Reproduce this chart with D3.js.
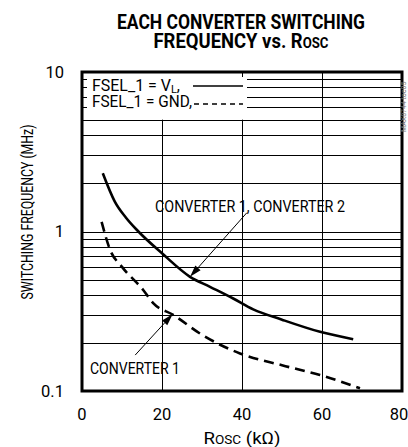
<!DOCTYPE html>
<html>
<head>
<meta charset="utf-8">
<script src="https://cdn.jsdelivr.net/npm/d3@7"></script>
<style>
    body { margin: 0; background: #fff; }
    svg { display: block; font-family: "Liberation Sans Narrow", Roboto, "DejaVu Sans Condensed", sans-serif; }
</style>
</head>
<body>
<div id="chart"></div>
<script>
// 0.data
var roscSolid = [5.2, 8.2, 11, 14.1, 20, 27, 32, 37.8, 42.8, 50, 59.5, 67.8];
var freqSolid = [2.32, 1.54, 1.22, 1.0, 0.73, 0.52, 0.45, 0.38, 0.325, 0.28, 0.235, 0.211];

var roscDashed = [4.9, 7, 10, 15.3, 17.8, 22.8, 30, 39.5, 50, 59.5, 69.5];
var freqDashed = [1.15, 0.77, 0.6, 0.43, 0.355, 0.30, 0.225, 0.172, 0.145, 0.126, 0.104];

var xTicks = [0, 20, 40, 60, 80];
var yTicks = [0.1, 1, 10];
var yTickLabels = ["0.1", "1", "10"];
var yGrid = [0.2, 0.3, 0.4, 0.5, 0.6, 0.7, 0.8, 0.9, 1, 2, 3, 4, 5, 6, 7, 8, 9];

// 0.1.size
var svgBGW = 408, svgBGH = 447;
var margin = {top: 72, right: 6, bottom: 56, left: 82};
var svgW = svgBGW - margin.left - margin.right;
var svgH = svgBGH - margin.top - margin.bottom;
var labelSize = 16.5;

// 1.scales
var xScale = d3.scaleLinear().domain([0, 80]).range([0, svgW]);
var yScale = d3.scaleLog().domain([0.1, 10]).range([svgH, 0]);

var svgBG = d3.select("#chart").append("svg").attr("width", svgBGW).attr("height", svgBGH);
var svg = svgBG.append("g").attr("transform", "translate(" + margin.left + "," + margin.top + ")");

// 2.title
var title = svgBG.append("g").attr("font-weight", "bold").attr("text-anchor", "middle").attr("fill", "#000");
title.append("text").attr("x", 241).attr("y", 29).attr("font-size", 21)
    .attr("textLength", 248).attr("lengthAdjust", "spacingAndGlyphs")
    .text("EACH CONVERTER SWITCHING");
var t2 = title.append("text").attr("x", 241).attr("y", 48).attr("font-size", 21)
    .attr("textLength", 175).attr("lengthAdjust", "spacingAndGlyphs");
t2.append("tspan").text("FREQUENCY vs. R");
t2.append("tspan").attr("font-size", 15).text("OSC");

// 3.grid
var grid = svg.append("g").attr("stroke", "#000").attr("stroke-width", 1);
grid.selectAll("line.h").data(yGrid).enter().append("line").attr("class", "h")
    .attr("x1", 0).attr("x2", svgW)
    .attr("y1", function(d) { return Math.round(yScale(d)) + 0.5; })
    .attr("y2", function(d) { return Math.round(yScale(d)) + 0.5; });
grid.selectAll("line.v").data(xTicks.slice(1, -1)).enter().append("line").attr("class", "v")
    .attr("y1", 0).attr("y2", svgH)
    .attr("x1", function(d) { return Math.round(xScale(d)) + 0.5; })
    .attr("x2", function(d) { return Math.round(xScale(d)) + 0.5; });

// 3.1.legend box covers the grid, the inner ticks stay
var legendW = xScale(41), legendH = yScale(5.1);
svg.append("rect").attr("x", 1).attr("y", 1).attr("width", legendW).attr("height", legendH).attr("fill", "#fff");
var ticks = svg.append("g").attr("stroke", "#000").attr("stroke-width", 1);
ticks.selectAll("line.l").data(yGrid).enter().append("line").attr("class", "l")
    .attr("x1", 0).attr("x2", 5)
    .attr("y1", function(d) { return Math.round(yScale(d)) + 0.5; })
    .attr("y2", function(d) { return Math.round(yScale(d)) + 0.5; });
ticks.selectAll("line.t").data(xTicks.slice(2, -1)).enter().append("line").attr("class", "t")
    .attr("y1", 0).attr("y2", 5)
    .attr("x1", function(d) { return Math.round(xScale(d)) + 0.5; })
    .attr("x2", function(d) { return Math.round(xScale(d)) + 0.5; });

var legend = svg.append("g").attr("font-size", 16).attr("fill", "#000");
var l1 = legend.append("text").attr("x", 10).attr("y", 19)
    .attr("textLength", 88).attr("lengthAdjust", "spacingAndGlyphs");
l1.append("tspan").text("FSEL_1 = V");
l1.append("tspan").attr("font-size", 11).attr("dy", 2).text("L");
l1.append("tspan").attr("dy", -2).text(",");
legend.append("text").attr("x", 10).attr("y", 35)
    .attr("textLength", 100).attr("lengthAdjust", "spacingAndGlyphs")
    .text("FSEL_1 = GND,");
legend.append("line").attr("x1", 111).attr("x2", 161).attr("y1", 14).attr("y2", 14)
    .attr("stroke", "#000").attr("stroke-width", 1.5);
legend.append("line").attr("x1", 112).attr("x2", 161).attr("y1", 32).attr("y2", 32)
    .attr("stroke", "#000").attr("stroke-width", 1.5).attr("stroke-dasharray", "5,4");

// 4.curves
var line = d3.line()
    .x(function(d) { return xScale(d[0]); })
    .y(function(d) { return yScale(d[1]); })
    .curve(d3.curveMonotoneX);

svg.append("path").datum(d3.zip(roscSolid, freqSolid))
    .attr("fill", "none").attr("stroke", "#000").attr("stroke-width", 2.6).attr("d", line);
svg.append("path").datum(d3.zip(roscDashed, freqDashed))
    .attr("fill", "none").attr("stroke", "#000").attr("stroke-width", 2.6)
    .attr("stroke-dasharray", "10,6").attr("d", line);

// 5.annotations
function arrow(x0, y0, x1, y1) {
    var ax = xScale(x0), ay = yScale(y0), bx = xScale(x1), by = yScale(y1);
    var ang = Math.atan2(by - ay, bx - ax), len = 12, half = 3.5;
    var cx = bx - len * Math.cos(ang), cy = by - len * Math.sin(ang);
    svg.append("line").attr("x1", ax).attr("y1", ay).attr("x2", cx).attr("y2", cy)
        .attr("stroke", "#000").attr("stroke-width", 1);
    svg.append("path").attr("fill", "#000")
        .attr("d", "M" + bx + "," + by +
            "L" + (cx + half * Math.sin(ang)) + "," + (cy - half * Math.cos(ang)) +
            "L" + (cx - half * Math.sin(ang)) + "," + (cy + half * Math.cos(ang)) + "Z");
}
svg.append("text").attr("x", xScale(42)).attr("y", yScale(1.32)).attr("text-anchor", "middle")
    .attr("font-size", labelSize).attr("textLength", 190).attr("lengthAdjust", "spacingAndGlyphs")
    .text("CONVERTER 1, CONVERTER 2");
arrow(41.2, 1.31, 27, 0.52);
svg.append("text").attr("x", xScale(2)).attr("y", yScale(0.128))
    .attr("font-size", labelSize).attr("textLength", 90).attr("lengthAdjust", "spacingAndGlyphs")
    .text("CONVERTER 1");
arrow(13.3, 0.168, 22.7, 0.304);

// 6.border
svg.append("rect").attr("x", 0).attr("y", 0).attr("width", svgW).attr("height", svgH)
    .attr("fill", "none").attr("stroke", "#000").attr("stroke-width", 3);

// 7.axis labels
var axisText = svgBG.append("g").attr("font-size", labelSize).attr("fill", "#000");
axisText.selectAll("text.y").data(yTicks).enter().append("text").attr("class", "y")
    .attr("x", margin.left - 18)
    .attr("y", function(d) { return margin.top + yScale(d); })
    .attr("dy", "0.36em").attr("text-anchor", "end")
    .text(function(d, i) { return yTickLabels[i]; });
axisText.selectAll("text.x").data(xTicks).enter().append("text").attr("class", "x")
    .attr("x", function(d) { return margin.left + xScale(d) - (d == 80 ? 3 : 0); })
    .attr("y", 420).attr("text-anchor", "middle")
    .text(function(d) { return d; });

var xt = axisText.append("text").attr("x", margin.left + xScale(40)).attr("y", 444).attr("text-anchor", "middle")
    .attr("textLength", 77).attr("lengthAdjust", "spacingAndGlyphs");
xt.append("tspan").text("R");
xt.append("tspan").attr("font-size", 12).text("OSC");
xt.append("tspan").text(" (k\u03A9)");

axisText.append("text").attr("transform", "translate(33," + 212 + ") rotate(-90)")
    .attr("text-anchor", "middle").attr("textLength", 175).attr("lengthAdjust", "spacingAndGlyphs")
    .text("SWITCHING FREQUENCY (MHz)");

// watermark id
svgBG.append("text").attr("transform", "translate(406,132) rotate(-90)")
    .attr("font-size", 7).attr("fill", "#777").text("MAX8744 toc05");
</script>
</body>
</html>
